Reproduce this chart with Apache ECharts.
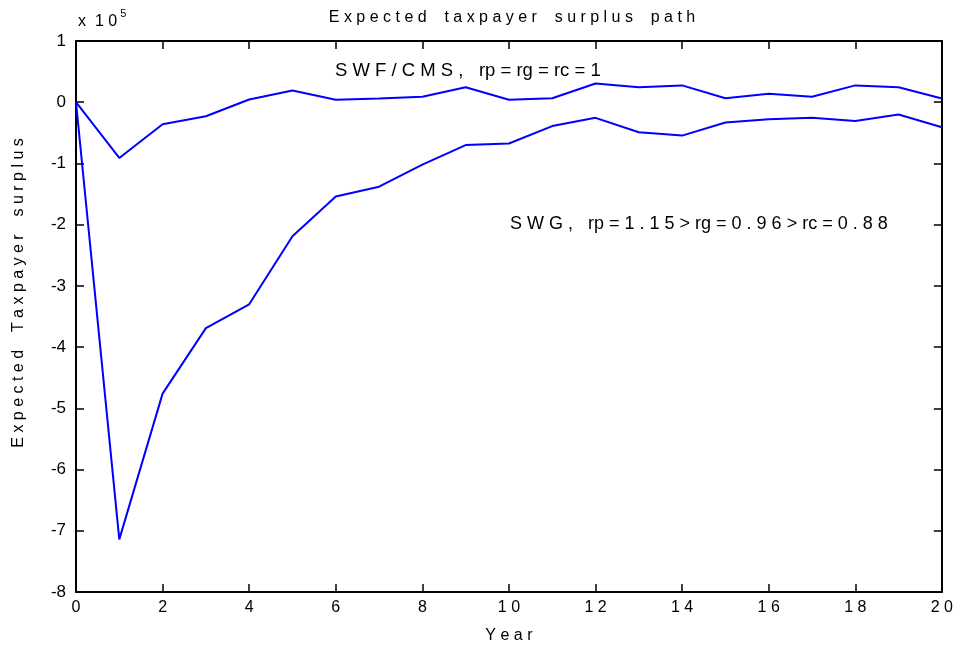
<!DOCTYPE html>
<html>
<head>
<meta charset="utf-8">
<script src="https://cdn.jsdelivr.net/npm/echarts@6/dist/echarts.min.js"></script>
<style>
  html, body { margin: 0; padding: 0; background: #fff; }
  #chart { width: 956px; height: 649px; }
</style>
</head>
<body>
<div id="chart"></div>
<script>
// Year index 0..20
const years = Array.from({ length: 21 }, (_, i) => i);

// Expected taxpayer surplus, in units of 10^5
const swfCms = [0, -0.91, -0.36, -0.23, 0.045, 0.19, 0.04, 0.06, 0.09, 0.245,
  0.04, 0.065, 0.305, 0.245, 0.275, 0.065, 0.14, 0.09, 0.275, 0.245, 0.06];
const swg = [0, -7.14, -4.76, -3.69, -3.30, -2.19, -1.54, -1.38, -1.02, -0.70,
  -0.675, -0.39, -0.255, -0.49, -0.545, -0.33, -0.28, -0.255, -0.305, -0.20, -0.41];

const yTicks = [-8, -7, -6, -5, -4, -3, -2, -1, 0, 1];
const xTicks = [0, 2, 4, 6, 8, 10, 12, 14, 16, 18, 20];

const FONT = 'Liberation Sans, Arial, sans-serif';
// letter-spaced text: one space between letters, a wider gap between words
const spaced = (s, wordGap = '    ') => String(s).split(' ').map(w => w.split('').join(' ')).join(wordGap);

const chart = echarts.init(document.getElementById('chart'), null, { renderer: 'canvas' });

const seriesOf = data => ({
  type: 'line',
  data: years.map((y, i) => [y, data[i]]),
  showSymbol: false,
  symbol: 'none',
  lineStyle: { color: '#0000ff', width: 2 },
  animation: false
});

const tickStyle = { show: true, inside: true, length: 8, lineStyle: { color: '#000', width: 1.5 } };
const lineStyle = { show: true, onZero: false, lineStyle: { color: '#000', width: 2 } };

chart.setOption({
  backgroundColor: '#fff',
  animation: false,
  title: {
    text: spaced('Expected taxpayer surplus path'),
    left: 507, top: 5, textAlign: 'center',
    textStyle: { fontFamily: FONT, fontSize: 16, fontWeight: 'normal', color: '#000' }
  },
  grid: { left: 76, right: 13, top: 41, bottom: 57, containLabel: false },
  xAxis: [{
    type: 'value', min: 0, max: 20, interval: 2,
    name: spaced('Year'), nameLocation: 'middle', nameGap: 36,
    nameTextStyle: { fontFamily: FONT, fontSize: 16, color: '#000' },
    axisLine: lineStyle, axisTick: tickStyle, splitLine: { show: false },
    axisLabel: { fontFamily: FONT, fontSize: 16, color: '#000', margin: 8,
      formatter: v => xTicks.includes(v) ? spaced(v) : '' }
  }, {
    type: 'value', min: 0, max: 20, interval: 2, position: 'top',
    axisLine: lineStyle, axisTick: tickStyle, axisLabel: { show: false }, splitLine: { show: false }
  }],
  yAxis: [{
    type: 'value', min: -8, max: 1, interval: 1,
    axisLine: lineStyle, axisTick: tickStyle, splitLine: { show: false },
    axisLabel: { fontFamily: FONT, fontSize: 17, color: '#000', margin: 10,
      formatter: v => yTicks.includes(v) ? String(v) : '' }
  }, {
    type: 'value', min: -8, max: 1, interval: 1, position: 'right',
    axisLine: lineStyle, axisTick: tickStyle, axisLabel: { show: false }, splitLine: { show: false }
  }],
  series: [seriesOf(swfCms), seriesOf(swg)],
  graphic: [
    {
      // y-axis title
      type: 'text', x: 19, y: 293, rotation: Math.PI / 2,
      style: { text: spaced('Expected Taxpayer surplus', '    '), fontFamily: FONT, fontSize: 16, fill: '#000',
        align: 'center', verticalAlign: 'middle' }
    },
    {
      type: 'text', left: 78, top: 8,
      style: {
        text: '{a|x  1 0}{s|5}',
        rich: {
          a: { fontFamily: FONT, fontSize: 16, fill: '#000', padding: [8, 0, 0, 0] },
          s: { fontFamily: FONT, fontSize: 11, fill: '#000', padding: [0, 0, 8, 3] }
        }
      }
    },
    {
      type: 'text', left: 335, top: 61,
      style: { text: spaced('SWF/CMS,') + '   rp = rg = rc = 1',
        fontFamily: FONT, fontSize: 18.5, fill: '#000' }
    },
    {
      type: 'text', left: 510, top: 215,
      style: { text: spaced('SWG,') + '   rp = ' + spaced('1.15') + ' > rg = ' + spaced('0.96') + ' > rc = ' + spaced('0.88'),
        fontFamily: FONT, fontSize: 18, fill: '#000' }
    }
  ]
});
</script>
</body>
</html>
